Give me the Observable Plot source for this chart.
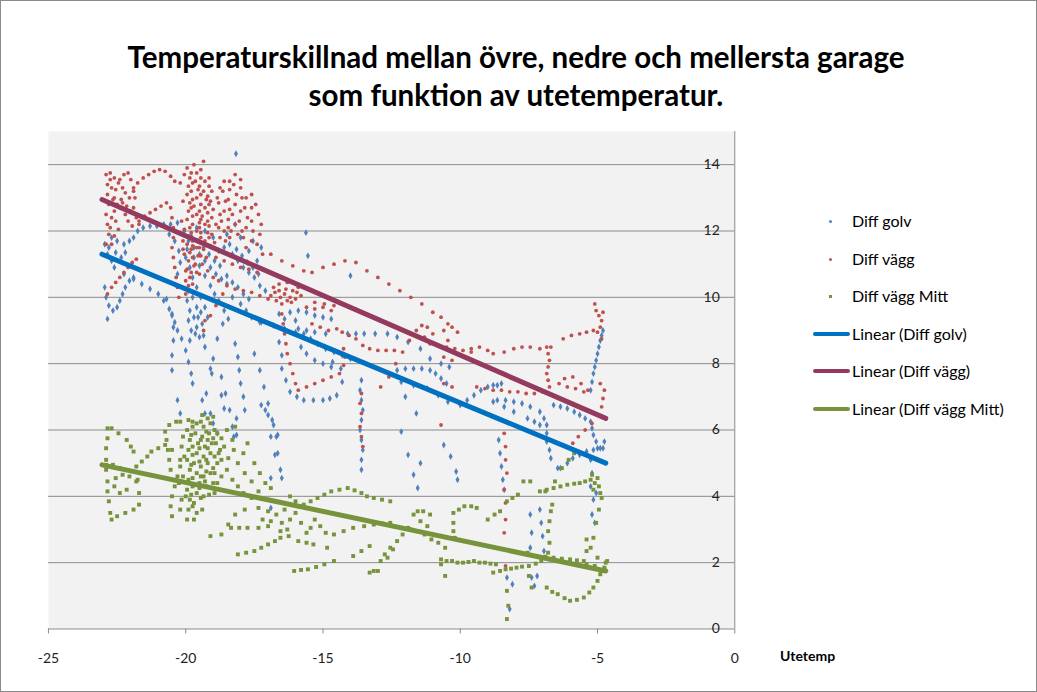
<!DOCTYPE html>
<html>
<head>
<meta charset="utf-8">
<script src="https://cdn.jsdelivr.net/npm/d3@7"></script>
<script src="https://cdn.jsdelivr.net/npm/@observablehq/plot@0.6"></script>
<style>
  html, body { margin: 0; padding: 0; background: #fff; }
  #wrap { position: relative; width: 1037px; height: 692px; box-sizing: border-box; border: 1px solid #8a8a8a; overflow: hidden; font-family: Lato, "Open Sans", sans-serif; }
  #title { position: absolute; left: 0; top: 37px; width: 1030px; text-align: center; font-weight: bold; font-size: 29.5px; line-height: 38px; color: #000; }
  #chart { position: absolute; left: -1px; top: 114px; }
  #xlabel { position: absolute; left: 779px; top: 646px; font-weight: bold; font-size: 14px; color: #000; }
  #legend { position: absolute; left: 810px; top: 207px; font-size: 16px; color: #000; }
  .li { position: absolute; left: 0; width: 225px; height: 26px; white-space: nowrap; }
  .li span.t { position: absolute; left: 41px; top: 0; line-height: 26px; }
  .li .dot { position: absolute; left: 18px; top: 12px; width: 3px; height: 3px; border-radius: 1.5px; }
  .li .sq { position: absolute; left: 18px; top: 12px; width: 3px; height: 3px; }
  .li .ln { position: absolute; left: 2px; top: 11px; width: 37px; height: 4px; border-radius: 2px; }
</style>
</head>
<body>
<div id="wrap">
  <div id="title">Temperaturskillnad mellan övre, nedre och mellersta garage<br>som funktion av utetemperatur.</div>
  <div id="chart"></div>
  <div id="xlabel">Utetemp</div>
  <div id="legend"></div>
</div>
<script>
// ---------- data ----------
const xTicks = [-25, -20, -15, -10, -5, 0];
const yTicks = [0, 2, 4, 6, 8, 10, 12, 14];
const seriesNames = ["Diff golv", "Diff vägg", "Diff vägg Mitt"];
const trendNames = ["Linear (Diff golv)", "Linear (Diff vägg)", "Linear (Diff vägg Mitt)"];

// Diff golv  [Utetemp, diff]
const diffGolv = [
[-22.7,11.8],[-22.5,11.7],[-22.25,11.6],[-22.05,11.7],[-21.9,11.8],[-21.75,12.0],[-21.55,12.1],[-21.3,12.15],[-21.05,12.15],[-20.8,12.2],[-20.55,12.2],[-20.3,12.25],
[-22.95,11.6],[-22.85,11.3],[-22.7,11.1],[-22.6,10.9],[-22.8,11.5],[-22.55,11.35],[-22.35,11.2],[-22.2,11.35],
[-22.95,10.3],[-22.9,10.0],[-22.8,9.75],[-22.65,9.6],[-22.5,9.7],[-22.4,9.9],[-22.3,10.1],[-22.2,10.3],[-22.05,10.5],[-21.9,10.6],[-22.85,9.35],
[-22.25,10.7],[-21.9,10.55],[-21.6,10.4],[-21.3,10.25],[-21.0,10.1],[-20.8,9.9],[-20.6,9.65],[-20.5,9.45],[-20.4,9.25],[-20.3,9.0],[-20.15,8.75],
[-20.5,9.5],[-20.45,9.1],[-20.45,8.7],[-20.5,8.25],[-20.5,7.8],
[-20.0,8.4],[-19.9,8.05],[-19.8,7.7],[-19.75,7.4],
[-20.1,11.9],[-19.9,11.7],[-19.7,11.5],[-19.5,11.3],[-19.3,11.1],[-19.1,10.9],[-18.9,10.7],[-18.7,10.55],[-18.5,10.4],
[-20.0,11.2],[-19.85,10.9],[-19.75,10.6],[-19.6,10.3],[-19.45,10.0],[-19.3,9.7],[-19.2,9.4],
[-19.9,10.2],[-19.95,9.9],[-19.85,9.6],[-19.9,9.3],[-19.8,9.0],[-19.85,8.7],
[-19.6,9.7],[-19.55,9.4],[-19.6,9.1],[-19.5,8.8],
[-20.05,12.0],[-19.8,11.85],[-19.55,11.7],[-19.35,11.5],[-19.15,11.3],[-18.95,11.1],[-18.75,10.95],
[-19.95,11.45],[-19.7,11.2],[-19.5,10.95],[-19.3,10.65],[-19.1,10.35],[-18.95,10.1],
[-19.75,10.0],[-19.7,9.4],[-19.65,8.9],[-19.45,9.55],[-19.4,9.2],[-19.35,8.85],[-19.3,8.5],
[-18.4,11.6],[-18.15,11.45],[-17.95,11.25],[-17.75,11.05],[-17.55,10.9],[-17.35,10.7],
[-18.5,10.65],[-18.3,10.45],[-18.1,10.3],[-17.9,10.1],[-17.7,9.95],
[-20.6,11.9],[-20.4,11.7],[-20.25,11.4],[-20.2,11.05],[-20.3,10.7],[-20.7,9.95],
[-18.65,9.2],[-18.85,8.75],[-19.0,8.15],[-19.1,7.85],[-19.05,7.7],
[-18.7,7.6],[-18.55,7.1],[-18.4,6.6],[-18.3,6.1],[-18.25,5.8],
[-18.2,8.6],[-18.1,8.2],[-18.05,7.8],[-18.0,7.4],[-17.9,7.0],[-17.85,6.6],
[-17.5,8.3],[-17.3,7.8],[-17.15,7.3],[-17.0,6.8],[-16.85,6.3],[-16.7,5.8],[-16.65,5.3],[-16.55,4.8],[-16.5,4.55],
[-19.1,6.5],[-19.0,6.2],[-18.85,5.9],[-19.25,7.1],
[-18.6,11.5],[-18.3,11.3],[-18.1,11.1],[-17.9,10.9],[-17.7,10.75],[-17.5,10.6],[-17.3,10.35],[-17.1,10.2],
[-18.5,11.9],[-18.2,12.2],[-18.0,11.8],[-17.7,11.4],[-17.4,11.1],[-17.55,11.7],[-17.25,11.5],
[-18.3,10.0],[-18.0,9.8],[-17.8,9.6],[-17.6,9.4],[-17.3,9.25],
[-18.8,9.9],[-18.6,9.6],[-18.45,9.35],
[-19.3,12.0],[-19.0,11.8],[-18.8,11.4],[-19.6,12.1],
[-18.7,7.05],[-18.6,6.65],[-18.15,6.35],[-18.15,5.85],[-17.25,6.75],[-17.0,6.45],[-16.8,6.15],[-16.65,5.85],
[-17.1,6.6],[-16.9,5.8],[-16.75,5.25],[-16.9,4.55],[-16.9,3.65],
[-20.3,6.9],[-20.2,6.5],[-19.4,6.9],[-19.3,6.5],
[-17.25,9.25],[-16.8,9.15],[-16.4,9.05],[-16.0,8.95],[-15.7,8.9],[-15.45,8.75],[-15.2,8.6],[-14.9,8.45],[-14.6,8.35],[-14.3,8.25],[-14.0,8.15],
[-15.8,8.5],[-15.6,8.3],[-15.3,8.1],[-15.0,8.0],[-14.7,7.9],
[-16.6,8.65],[-16.5,8.25],[-16.5,7.85],[-16.35,7.5],[-16.2,7.15],[-15.95,7.0],[-15.7,6.9],[-15.35,6.9],[-15.0,6.9],[-14.75,6.95],[-14.5,7.05],[-14.3,7.45],[-14.35,7.85],[-14.65,8.05],
[-16.6,9.5],[-16.2,9.55],[-15.9,9.6],[-15.6,9.55],[-15.3,9.45],[-15.0,9.4],[-14.7,9.35],
[-16.4,9.35],[-16.0,9.3],[-15.9,9.05],[-15.6,9.0],[-15.3,8.95],[-14.9,8.9],
[-14.1,8.9],[-13.8,8.9],[-13.5,8.9],[-13.1,8.9],[-12.65,8.9],[-12.3,8.8],[-11.9,8.65],[-11.45,8.45],[-11.1,8.15],[-10.7,8.0],[-10.4,7.9],
[-12.6,7.7],[-12.3,7.8],[-12.0,7.85],[-11.7,7.85],[-11.4,7.85],[-11.1,7.8],[-10.9,7.7],[-10.7,7.55],[-10.5,7.4],
[-12.15,7.45],[-11.7,7.35],[-11.2,7.25],[-10.8,7.05],[-10.45,6.85],[-10.0,6.75],[-9.75,6.9],[-9.5,7.05],[-9.25,7.2],[-9.0,7.3],[-8.8,7.35],[-8.65,7.35],[-8.5,7.4],
[-12.0,7.0],[-11.6,6.5],
[-8.65,6.9],[-8.35,6.9],[-8.05,6.85],[-7.75,6.8],[-7.45,6.7],[-7.1,6.55],[-6.95,6.35],[-6.85,6.15],[-6.85,5.9],[-6.85,5.65],[-6.75,5.4],[-6.7,5.15],[-6.45,4.85],
[-8.8,6.85],[-8.4,6.7],[-8.05,6.55],[-7.55,6.35],[-7.3,6.25],[-7.1,6.15],
[-6.6,6.75],[-6.35,6.7],[-6.1,6.65],[-5.85,6.55],[-5.65,6.45],[-5.45,6.35],[-5.25,6.25],[-5.2,6.05],[-5.15,5.85],[-5.05,5.65],[-5.0,5.45],[-4.8,5.45],[-4.75,5.65],
[-6.35,4.85],[-6.1,5.0],[-5.9,5.15],[-5.65,5.25],[-5.4,5.35],[-5.15,5.4],[-4.9,5.45],
[-5.25,7.2],[-5.2,7.45],[-5.15,7.7],[-5.1,7.9],[-5.05,8.1],[-5.0,8.3],[-4.95,8.5],[-4.9,8.7],[-4.85,8.85],[-4.8,9.0],
[-5.25,5.1],[-5.2,4.7],[-5.25,4.3],[-5.15,3.9],[-5.2,3.45],[-5.1,3.2],[-5.05,4.1],
[-18.17,14.33],[-15.62,11.95],[-15.55,11.25],[-14.0,10.65],
[-13.6,7.5],[-13.65,7.2],[-13.6,6.9],[-13.55,6.6],[-13.6,6.3],[-13.65,6.0],[-13.6,5.7],[-13.55,5.4],[-13.6,5.1],[-13.6,4.8],
[-12.15,5.95],[-11.9,5.25],[-11.7,4.65],[-11.55,4.25],[-11.45,5.0],
[-10.6,5.55],[-10.35,5.2],[-10.15,4.75],[-10.1,4.5],
[-8.6,5.7],[-8.55,5.3],[-8.5,4.9],[-8.45,4.5],[-8.4,4.2],
[-7.45,3.45],[-7.4,2.9],[-7.45,2.45],[-7.1,3.6],[-7.05,3.2],[-7.0,2.8],[-6.95,2.35],
[-8.3,1.55],[-8.1,1.35],[-8.2,0.6],[-7.4,1.55],[-7.3,1.3],[-7.2,1.6]
];

// Diff vägg  [Utetemp, diff]
const diffVagg = [
[-22.9,13.7],[-22.75,13.75],[-22.6,13.6],[-22.45,13.45],[-22.3,13.3],[-22.2,13.15],[-22.55,13.25],[-22.4,13.55],[-22.25,13.7],[-22.1,13.75],[-22.0,13.55],[-21.9,13.3],[-21.85,13.0],[-21.9,12.7],[-21.8,12.4],[-21.7,12.2],
[-22.85,13.4],[-22.85,13.1],[-22.8,12.8],[-22.9,12.5],[-22.85,12.2],[-22.8,11.9],[-22.9,11.6],[-22.65,12.95],[-22.6,12.6],[-22.55,12.3],[-22.45,12.05],[-22.6,11.85],[-22.4,12.7],[-22.2,12.5],[-22.1,12.3],[-22.0,12.6],[-21.95,12.15],[-22.3,12.85],[-22.7,11.6],
[-22.75,13.55],[-22.7,13.3],[-22.6,13.0],[-22.5,12.8],[-22.7,12.4],[-22.75,12.1],[-22.35,12.95],[-22.15,12.75],[-22.05,13.0],
[-21.9,13.2],[-21.75,13.45],[-21.55,13.6],[-21.35,13.7],[-21.15,13.8],[-20.95,13.85],[-20.75,13.8],[-20.55,13.65],[-20.4,13.5],[-20.2,13.45],
[-21.7,12.3],[-21.5,12.45],[-21.3,12.55],[-21.1,12.65],[-20.9,12.75],[-20.7,12.85],[-20.55,12.7],[-20.5,12.4],[-20.45,12.1],[-20.45,11.8],[-20.5,11.5],[-20.45,11.2],[-20.4,10.9],[-20.35,10.6],[-20.3,10.3],[-20.25,10.0],
[-22.1,10.9],[-22.25,10.75],[-22.4,10.6],[-22.55,10.45],[-22.7,10.3],[-22.85,10.1],[-21.95,11.05],[-21.8,11.15],
[-19.95,13.9],[-19.85,13.6],[-19.9,13.35],[-19.95,13.1],[-19.85,12.85],[-19.9,12.6],[-19.95,12.35],[-19.85,12.1],[-19.9,11.85],[-19.95,11.6],[-19.85,11.35],[-19.9,11.1],[-19.95,10.85],[-19.85,10.6],[-19.9,10.35],
[-19.8,13.75],[-19.75,13.45],[-19.8,13.2],[-19.75,12.95],[-19.8,12.7],[-19.75,12.45],[-19.8,11.95],[-19.75,11.7],[-19.8,11.45],[-19.75,11.2],[-19.8,10.75],
[-19.6,13.75],[-19.65,13.5],[-19.55,13.25],[-19.6,13.0],[-19.7,12.75],[-19.6,12.5],[-19.5,12.25],[-19.6,12.0],[-19.7,11.75],[-19.6,11.5],[-19.55,11.25],[-19.65,11.0],[-19.6,10.75],
[-19.45,13.6],[-19.5,13.35],[-19.45,13.1],[-19.5,12.6],[-19.45,12.35],[-19.5,12.1],[-19.45,11.8],[-19.5,11.5],[-19.45,11.25],
[-19.3,13.5],[-19.35,13.2],[-19.25,12.95],[-19.3,12.7],[-19.4,12.45],[-19.3,12.2],[-19.2,11.95],[-19.3,11.7],[-19.35,11.45],[-19.25,11.2],
[-19.15,13.35],[-19.2,13.05],[-19.15,12.8],[-19.2,12.3],[-19.15,11.8],[-19.1,11.55],
[-19.05,13.2],[-19.1,12.9],[-19.0,12.65],[-19.05,12.4],[-19.15,12.15],[-19.05,11.9],[-18.95,11.65],
[-19.35,14.1],[-19.7,14.0],[-20.05,13.7],[-19.45,13.85],[-19.15,13.6],[-20.1,12.9],[-20.15,12.3],[-20.1,11.7],[-20.05,11.3],[-19.75,12.2],[-19.45,12.8],[-19.2,12.55],[-19.75,11.55],[-19.45,11.95],[-19.7,10.95],[-20.0,10.5],[-19.75,10.4],[-19.5,10.7],
[-20.05,12.05],[-20.1,11.45],[-20.0,10.8],[-20.15,10.3],[-20.0,10.1],
[-18.6,13.5],[-18.65,13.2],[-18.55,12.9],[-18.6,12.6],[-18.7,12.3],[-18.6,12.0],[-18.55,11.7],
[-18.75,13.3],[-18.8,12.85],[-18.75,12.5],[-18.8,12.1],[-18.75,11.8],
[-18.4,13.25],[-18.45,12.95],[-18.4,12.65],[-18.45,12.35],[-18.35,12.0],
[-18.2,13.7],[-18.25,13.4],[-18.15,13.1],[-18.2,12.8],[-18.3,12.5],[-18.2,12.2],[-18.1,11.9],
[-18.0,13.55],[-17.95,13.0],[-18.05,12.3],[-17.95,12.0],
[-17.8,13.0],[-17.85,12.7],[-17.75,12.4],[-17.8,12.1],[-17.9,11.8],[-17.8,11.5],
[-17.6,13.1],[-17.45,12.8],[-17.35,12.5],[-17.25,12.2],[-17.3,11.9],[-17.4,11.6],[-17.2,11.3],
[-17.6,12.7],[-17.55,12.0],[-17.6,11.7],
[-18.85,13.0],[-18.4,13.5],[-18.0,13.3],[-18.45,12.1],[-18.0,12.6],[-17.6,12.3],[-18.9,12.2],[-18.4,11.8],
[-19.4,11.0],[-19.2,10.8],[-19.0,10.6],[-18.8,10.5],[-18.5,10.35],[-18.2,10.25],[-17.9,10.2],[-17.6,10.15],[-17.3,10.05],[-17.0,9.95],
[-18.65,10.1],[-18.9,9.75],[-19.1,9.45],[-19.3,9.3],[-19.35,9.0],
[-18.9,11.2],[-18.6,11.1],[-18.3,11.0],[-18.0,10.9],[-17.7,10.85],[-17.4,10.75],
[-16.9,11.3],[-16.5,11.1],[-16.1,10.95],[-15.7,10.8],[-15.4,10.75],[-15.0,10.9],[-14.6,11.0],[-14.2,11.1],[-13.8,11.05],[-13.4,10.8],[-13.0,10.6],[-12.6,10.4],[-12.2,10.2],[-11.8,10.0],[-11.4,9.8],[-11.0,9.55],[-10.7,9.4],[-10.45,9.2],
[-16.8,10.3],[-16.6,10.2],[-16.4,10.1],[-16.2,10.0],[-16.0,9.95],[-15.8,10.05],[-16.7,9.9],[-16.5,9.8],[-16.3,9.9],[-16.1,10.2],[-15.9,10.3],[-16.9,10.05],
[-16.75,10.15],[-16.55,10.0],[-16.35,10.25],[-16.15,9.85],[-15.95,10.15],[-16.6,10.4],[-16.3,10.45],
[-16.5,9.5],[-16.45,9.2],[-16.4,8.9],[-16.35,8.6],[-16.3,8.3],[-16.2,8.0],[-16.1,7.7],[-16.0,7.4],
[-15.9,7.2],[-15.6,7.3],[-15.3,7.4],[-15.0,7.5],[-14.7,7.6],[-14.4,7.7],[-14.25,7.95],[-14.2,8.2],[-14.25,8.45],
[-15.6,9.7],[-15.3,9.65],[-15.0,9.7],[-14.7,9.6],[-15.4,9.2],[-15.1,9.1],[-14.8,9.0],[-14.5,9.05],
[-15.3,9.85],[-14.95,9.8],[-14.6,9.75],
[-14.3,8.95],[-14.05,8.85],[-13.8,8.75],[-13.55,8.55],[-13.3,8.45],[-13.0,8.4],[-12.7,8.4],[-12.4,8.4],
[-13.6,7.1],[-13.65,6.8],[-13.6,6.5],[-13.65,6.1],[-13.6,5.8],[-13.55,5.5],
[-12.9,7.3],[-12.6,7.6],[-12.35,8.0],[-12.1,8.35],[-11.85,8.7],[-11.6,9.0],[-11.4,9.15],[-11.2,9.1],[-11.0,8.9],[-11.3,8.8],
[-11.1,8.6],[-10.8,8.55],[-10.5,8.5],[-10.2,8.45],[-9.9,8.4],[-9.6,8.35],[-10.6,8.2],[-10.3,8.1],
[-10.3,9.1],[-10.1,8.95],[-10.6,9.0],[-10.45,8.7],[-10.7,6.15],
[-9.6,8.45],[-9.3,8.5],[-9.0,8.4],[-8.8,8.3],[-8.05,8.45],[-7.45,8.5],[-6.7,8.5],[-6.25,8.75],[-5.65,8.9],[-5.15,9.0],[-8.4,8.35],[-7.75,8.5],[-7.1,8.45],[-5.95,8.85],[-5.4,8.95],
[-5.1,9.8],[-5.05,9.6],[-4.95,9.45],[-4.85,9.3],[-4.9,9.1],[-5.0,8.95],[-4.8,9.55],[-4.85,8.75],
[-6.85,8.5],[-6.8,8.3],[-6.75,8.1],[-6.8,7.9],[-6.85,7.7],[-6.8,7.5],[-6.75,7.3],
[-8.8,7.2],[-8.5,7.2],[-8.2,7.15],[-7.9,7.15],[-7.6,7.1],[-7.3,7.1],[-7.0,7.15],[-9.1,7.25],[-9.4,7.3],
[-6.4,7.4],[-6.1,7.3],[-5.8,7.25],[-5.6,7.4],[-5.35,7.2],[-6.2,7.55],[-5.9,7.6],[-5.5,7.15],
[-4.8,6.95],[-4.85,6.7],[-4.95,6.45],[-5.2,6.2],[-5.45,6.0],[-5.7,5.8],[-5.9,5.6],[-4.75,7.2],[-4.9,7.4],
[-10.6,7.4],[-10.3,7.3],
[-8.4,5.9],[-8.35,5.5],[-8.35,5.1],[-8.3,4.7],[-8.4,4.2],[-8.35,3.8],[-8.35,3.3],[-8.4,2.9],[-8.4,2.4],[-8.35,1.9]
];

// Diff vägg Mitt  [Utetemp, diff]
const diffVaggMitt = [
[-22.85,6.05],[-22.85,5.75],[-22.9,5.45],[-22.9,5.1],[-22.9,4.8],[-22.85,4.45],[-22.85,4.15],[-22.8,3.85],[-22.75,3.5],[-22.7,3.3],
[-22.5,3.4],[-22.2,3.5],[-21.9,3.6],[-21.7,3.75],
[-21.7,4.1],[-21.75,4.5],[-21.8,4.9],[-21.9,5.35],[-22.15,5.7],[-22.45,5.9],[-22.7,6.05],[-22.0,5.5],
[-22.55,4.55],[-22.3,4.65],[-22.05,4.6],[-21.8,4.45],[-22.6,4.3],[-22.4,4.1],[-22.15,4.2],
[-22.9,4.95],[-22.65,4.95],[-22.4,4.85],
[-21.6,5.05],[-21.4,5.2],[-21.25,5.35],[-21.0,5.45],[-20.75,5.55],[-20.5,5.4],[-20.2,5.1],
[-20.75,5.95],[-20.6,6.15],[-20.35,6.25],[-20.2,6.25],[-20.7,5.7],[-20.65,5.4],[-20.6,5.1],[-20.55,4.8],
[-20.5,4.0],[-20.55,3.7],[-20.5,3.4],[-20.4,4.3],[-20.3,4.6],
[-20.15,5.5],[-20.2,4.9],[-20.25,4.4],[-20.15,3.9],[-20.2,3.6],
[-19.9,6.3],[-19.95,6.0],[-19.85,5.7],[-19.9,5.4],[-19.95,5.1],[-19.85,4.8],[-19.9,4.5],[-19.95,4.2],[-19.85,3.9],[-19.9,3.6],[-19.95,3.3],
[-19.75,6.1],[-19.8,5.85],[-19.75,5.25],[-19.8,4.95],[-19.75,4.3],[-19.8,4.05],[-19.75,3.7],
[-19.6,6.2],[-19.65,5.9],[-19.55,5.6],[-19.6,5.3],[-19.7,5.0],[-19.6,4.7],[-19.5,4.4],[-19.6,4.1],[-19.7,3.8],[-19.6,3.5],
[-19.45,6.25],[-19.5,5.45],[-19.45,4.6],[-19.5,4.25],[-19.45,3.95],
[-19.35,6.1],[-19.4,5.8],[-19.3,5.5],[-19.35,5.2],[-19.45,4.9],[-19.35,4.6],[-19.25,4.3],[-19.35,4.0],
[-19.25,5.95],[-19.2,5.7],[-19.25,5.1],[-19.3,4.45],
[-19.1,6.2],[-19.15,5.9],[-19.05,5.6],[-19.1,5.3],[-19.2,5.0],[-19.1,4.7],[-19.0,4.4],
[-18.95,6.0],[-19.0,5.75],[-18.95,5.2],[-19.0,4.85],
[-18.85,5.9],[-18.9,5.6],[-18.8,5.3],[-18.85,5.0],[-18.95,4.7],[-18.85,4.4],
[-18.7,5.75],[-18.75,5.4],[-18.7,5.1],[-18.7,4.6],
[-19.4,6.45],[-19.2,6.35],[-19.0,6.4],[-19.75,6.25],[-20.1,5.8],[-20.05,5.2],[-20.1,4.6],[-20.0,4.0],[-19.75,4.55],[-19.5,5.05],[-19.25,4.75],[-19.75,5.5],[-19.45,5.7],[-19.2,5.45],[-19.7,3.3],[-19.4,3.6],[-19.15,4.05],[-18.95,4.1],
[-18.3,5.7],[-18.25,5.4],[-18.1,5.0],[-17.85,4.7],[-17.6,4.45],[-17.35,4.15],
[-18.6,5.5],[-18.45,5.15],[-18.5,4.8],[-18.3,4.5],[-18.1,4.3],[-17.9,4.1],[-17.6,3.95],
[-18.5,6.0],[-18.2,6.1],[-17.9,5.3],[-17.75,5.6],[-17.5,5.0],[-17.3,4.7],[-17.1,4.4],[-16.9,4.25],
[-19.1,2.8],[-18.7,2.85],[-18.45,3.15],[-18.2,3.45],[-17.85,3.6],[-17.35,3.65],[-17.0,3.55],[-16.7,3.45],
[-18.35,3.05],[-17.75,3.05],[-17.0,3.1],[-16.55,2.95],[-15.9,2.65],[-15.35,2.55],[-14.85,2.45],[-18.05,3.05],[-17.35,3.05],[-16.25,2.8],[-15.6,2.6],
[-18.1,2.25],[-17.8,2.3],[-17.5,2.35],[-17.25,2.45],[-17.0,2.55],[-16.75,2.65],[-16.55,2.75],
[-16.05,1.75],[-15.8,1.78],[-15.55,1.8],[-15.25,1.87],[-14.95,1.95],[-14.6,2.05],
[-15.7,3.75],[-15.45,3.85],[-15.2,3.95],[-14.95,4.05],[-14.7,4.15],[-14.4,4.2],[-14.1,4.25],[-13.85,4.18],[-13.6,4.1],[-13.4,4.0],[-13.15,3.95],[-12.85,3.9],[-12.55,3.85],
[-16.2,4.0],[-16.0,3.85],[-15.85,3.7],[-17.2,3.3],[-16.9,3.25],
[-16.4,3.6],[-16.2,3.3],[-16.0,3.5],[-15.8,3.2],[-16.5,3.2],[-16.3,3.0],
[-15.3,3.3],[-15.1,3.1],[-14.9,2.9],[-15.45,3.05],[-15.6,2.9],
[-14.6,2.85],[-14.25,2.95],[-13.9,3.05],[-13.5,3.1],[-13.15,3.15],[-12.85,3.18],[-12.55,3.2],
[-12.55,2.45],[-12.75,2.25],[-12.9,2.05],[-13.15,1.75],[-13.3,1.7],
[-13.0,1.75],[-12.65,2.15],[-12.45,2.4],[-12.3,2.65],[-12.1,2.85],[-11.9,3.05],[-11.7,3.45],[-11.55,3.55],[-11.35,3.55],[-11.1,3.45],
[-11.8,3.0],[-11.55,2.95],[-11.3,2.85],[-11.05,2.7],[-10.8,2.6],[-10.55,2.45],[-11.45,3.25],[-11.2,3.1],
[-13.9,2.2],[-13.6,2.35],[-13.3,2.5],
[-10.25,3.5],[-10.05,3.6],[-9.85,3.7],[-9.6,3.7],[-9.4,3.65],[-10.25,3.2],[-10.25,2.95],[-10.2,2.75],
[-9.0,3.3],[-8.75,3.45],[-8.55,3.55],[-8.3,3.85],[-8.1,3.95],[-7.9,4.05],[-7.7,4.45],[-7.45,4.45],
[-7.1,4.15],[-6.85,4.2],[-6.6,4.25],[-6.35,4.3],[-6.1,4.35],[-5.85,4.38],[-5.65,4.4],[-5.45,4.45],[-5.25,4.5],
[-6.9,4.15],[-6.55,4.45],[-6.3,4.85],[-6.05,5.1],[-5.85,5.3],
[-5.2,4.65],[-5.0,4.55],[-5.1,4.4],[-4.95,4.3],[-5.15,4.2],[-4.9,4.1],
[-4.85,3.95],[-4.95,3.6],[-5.05,3.2],[-5.15,2.75],[-5.25,2.45],
[-6.7,3.55],[-6.75,3.25],[-6.8,2.95],[-6.75,2.6],[-6.8,2.3],[-6.65,3.75],
[-10.7,2.1],[-10.5,2.05],[-10.3,2.05],[-10.1,2.0],[-9.9,2.0],[-9.7,2.02],[-9.5,2.05],[-9.3,2.0],[-9.1,2.0],[-8.9,1.97],[-8.7,1.95],
[-10.7,1.95],[-10.55,1.6],
[-8.8,1.7],[-8.55,1.75],[-8.35,1.8],[-8.15,1.82],[-7.95,1.85],[-7.75,1.88],[-7.5,1.9],[-7.25,1.97],[-7.05,2.05],
[-7.3,2.2],[-6.9,2.18],[-6.6,2.15],[-6.3,2.12],[-6.0,2.1],[-5.75,2.07],[-5.5,2.05],
[-6.85,1.25],[-6.65,1.12],[-6.45,1.05],[-6.2,0.93],[-6.0,0.85],[-5.75,0.88],[-5.5,0.95],[-5.3,1.1],[-5.15,1.25],[-5.0,1.45],[-4.9,1.65],[-4.75,1.85],[-4.65,2.05],
[-5.4,1.95],[-5.1,1.9],[-4.85,1.75],[-4.7,2.0],[-4.75,1.8],[-5.0,2.15],[-5.4,2.7],[-5.4,2.35],
[-8.3,1.15],[-8.25,0.7],[-8.3,0.3],
[-7.5,1.6],[-7.4,1.25],[-7.55,2.3]
];

// linear trend lines (end points)
const trendX = [-23.05, -4.7];
const trendGolv = [11.3, 5.0];
const trendVagg = [12.95, 6.35];
const trendVaggMitt = [4.95, 1.75];

// ---------- drawing ----------
const colors = { golv: "#4f81bd", vagg: "#c0504d", mitt: "#77933c" };
const trendColors = { golv: "#0070c0", vagg: "#953a5f", mitt: "#77933c" };

const toObj = (arr) => arr.map(([x, y]) => ({ x, y }));
const trend = (ys) => trendX.map((x, i) => ({ x, y: ys[i] }));

const chart = Plot.plot({
  width: 1037,
  height: 578,
  marginLeft: 48,
  marginRight: 302,
  marginTop: 16,
  marginBottom: 64,
  x: { domain: [-25, 0] },
  y: { domain: [0, 15], axis: null },
  style: { fontFamily: "Lato, 'Open Sans', sans-serif", fontSize: "14px", color: "#222", background: "transparent", overflow: "visible" },
  marks: [
    Plot.frame({ fill: "#f2f2f2", stroke: null }),
    Plot.ruleY(yTicks.filter(d => d > 0), { stroke: "#8c8c8c", strokeWidth: 1 }),
    Plot.ruleY([0], { stroke: "#8c8c8c", strokeWidth: 1 }),
    Plot.ruleX([0], { stroke: "#8c8c8c", strokeWidth: 1 }),
    Plot.text(yTicks, { x: 0, y: d => d, text: d => String(d), textAnchor: "end", dx: -15, fill: "#222", fontSize: 14 }),
    Plot.axisX(xTicks, { tickSize: 5, tickPadding: 19, stroke: "#8c8c8c", fill: "#222", tickFormat: d => String(d), label: null, fontSize: 14 }),
    Plot.dot(toObj(diffGolv), { x: "x", y: "y", r: 2.1, symbol: "diamond", fill: colors.golv, stroke: null }),
    Plot.dot(toObj(diffVagg), { x: "x", y: "y", r: 1.9, fill: colors.vagg, stroke: null }),
    Plot.dot(toObj(diffVaggMitt), { x: "x", y: "y", r: 2.2, symbol: "square", fill: colors.mitt, stroke: null }),
    Plot.line(trend(trendGolv), { x: "x", y: "y", stroke: trendColors.golv, strokeWidth: 5 }),
    Plot.line(trend(trendVagg), { x: "x", y: "y", stroke: trendColors.vagg, strokeWidth: 5 }),
    Plot.line(trend(trendVaggMitt), { x: "x", y: "y", stroke: trendColors.mitt, strokeWidth: 5 })
  ]
});
document.getElementById("chart").appendChild(chart);

// legend
const legend = document.getElementById("legend");
const items = [
  { name: seriesNames[0], kind: "dot", color: colors.golv },
  { name: seriesNames[1], kind: "dot", color: colors.vagg },
  { name: seriesNames[2], kind: "sq", color: colors.mitt },
  { name: trendNames[0], kind: "ln", color: trendColors.golv },
  { name: trendNames[1], kind: "ln", color: trendColors.vagg },
  { name: trendNames[2], kind: "ln", color: trendColors.mitt }
];
items.forEach((it, i) => {
  const d = document.createElement("div");
  d.className = "li";
  d.style.top = (i * 37.6) + "px";
  const m = document.createElement("div");
  m.className = it.kind;
  m.style.background = it.color;
  const t = document.createElement("span");
  t.className = "t";
  t.textContent = it.name;
  d.appendChild(m); d.appendChild(t);
  legend.appendChild(d);
});
</script>
</body>
</html>
